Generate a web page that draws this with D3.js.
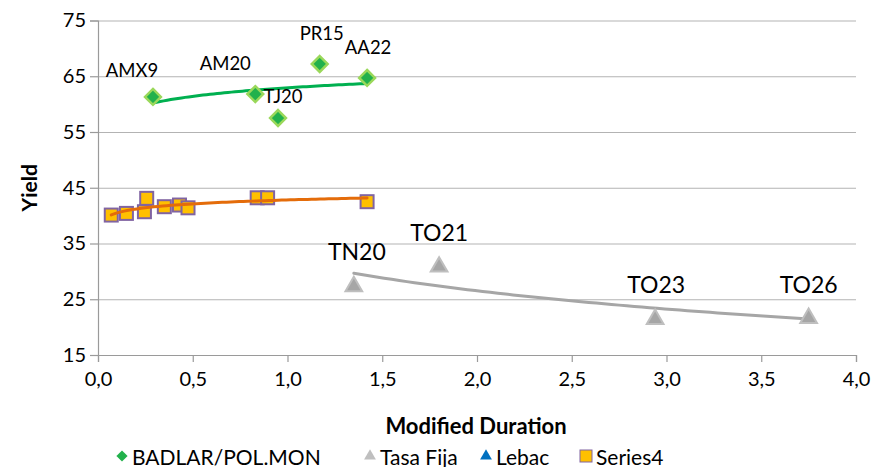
<!DOCTYPE html>
<html>
<head>
<meta charset="utf-8">
<script src="https://cdn.jsdelivr.net/npm/d3@7"></script>
<style>
  body { margin: 0; background: #fff; }
  text { font-family: Lato, "Open Sans", sans-serif; fill: #000; }
</style>
</head>
<body>
<svg id="chart" width="877" height="467"></svg>
<script>
// data
const badlarNames = ["AMX9", "AM20", "TJ20", "PR15", "AA22"];
const badlarDur = [0.29, 0.83, 0.95, 1.17, 1.42];
const badlarYield = [61.3, 61.8, 57.5, 67.2, 64.7];

const fijaNames = ["TN20", "TO21", "TO23", "TO26"];
const fijaDur = [1.35, 1.80, 2.94, 3.75];
const fijaYield = [27.5, 31.0, 21.6, 21.8];

const lebacDur = [];
const lebacYield = [];

const s4Dur = [0.07, 0.15, 0.245, 0.257, 0.35, 0.43, 0.475, 0.84, 0.895, 1.42];
const s4Yield = [40.1, 40.4, 40.7, 43.1, 41.6, 41.9, 41.4, 43.2, 43.2, 42.5];

const xTicks = [0, 0.5, 1, 1.5, 2, 2.5, 3, 3.5, 4];
const yTicks = [15, 25, 35, 45, 55, 65, 75];
const legendNames = ["BADLAR/POL.MON", "Tasa Fija", "Lebac", "Series4"];

// layout
const margin = {top: 20.5, right: 21, bottom: 112, left: 98};
const svg = d3.select("#chart");
const W = 877, H = 467;

const x = d3.scaleLinear().domain([0, 4]).range([margin.left, W - margin.right]);
const y = d3.scaleLinear().domain([15, 75]).range([H - margin.bottom, margin.top]);

const zip = (xs, ys, names) => xs.map((d, i) => ({x: d, y: ys[i], name: names ? names[i] : null}));
const badlar = zip(badlarDur, badlarYield, badlarNames);
const fija = zip(fijaDur, fijaYield, fijaNames);
const lebac = zip(lebacDur, lebacYield);
const s4 = zip(s4Dur, s4Yield);

// gridlines
svg.append("g")
  .attr("transform", `translate(${margin.left},0)`)
  .call(d3.axisLeft(y).tickValues(yTicks).tickSize(-(W - margin.left - margin.right)).tickFormat(""))
  .call(g => g.select(".domain").remove())
  .selectAll("line").attr("stroke", "#b3b3b3").attr("stroke-width", 1.2);

// y axis
svg.append("g")
  .attr("transform", `translate(${margin.left},0)`)
  .call(d3.axisLeft(y).tickValues(yTicks).tickSize(8).tickPadding(4))
  .call(g => g.select(".domain").attr("stroke", "#9a9a9a").attr("stroke-width", 1.2))
  .call(g => g.selectAll("line").attr("stroke", "#9a9a9a").attr("stroke-width", 1.2))
  .call(g => g.selectAll("text").style("font-size", "20px").attr("fill", "#000"));

// x axis
svg.append("g")
  .attr("transform", `translate(0,${y(15)})`)
  .call(d3.axisBottom(x).tickValues(xTicks).tickSize(7).tickPadding(10)
    .tickFormat(d => d3.format(".1f")(d).replace(".", ",")))
  .call(g => g.select(".domain").attr("stroke", "#9a9a9a").attr("stroke-width", 1.2))
  .call(g => g.selectAll("line").attr("stroke", "#9a9a9a").attr("stroke-width", 1.2))
  .call(g => g.selectAll("text").style("font-size", "20px").attr("fill", "#000"));

// axis titles
svg.append("text")
  .attr("x", 476).attr("y", 434)
  .attr("text-anchor", "middle").style("font-size", "22px").style("font-weight", "bold")
  .text("Modified Duration");
svg.append("text")
  .attr("transform", `translate(37,${(y(15) + y(75)) / 2}) rotate(-90)`)
  .attr("text-anchor", "middle").style("font-size", "21px").style("font-weight", "bold")
  .text("Yield");

// logarithmic trendlines fitted to each series
function logFit(pts) {
  const lx = pts.map(p => Math.log(p.x));
  const mx = d3.mean(lx), my = d3.mean(pts, p => p.y);
  let sxy = 0, sxx = 0;
  pts.forEach((p, i) => { sxy += (lx[i] - mx) * (p.y - my); sxx += (lx[i] - mx) ** 2; });
  const b = sxy / sxx, a = my - b * mx;
  const [x0, x1] = d3.extent(pts, p => p.x);
  return d3.range(0, 61).map(i => {
    const xv = x0 + (x1 - x0) * i / 60;
    return {x: xv, y: a + b * Math.log(xv)};
  });
}
const line = d3.line().x(d => x(d.x)).y(d => y(d.y));

function trend(pts, color) {
  svg.append("path").datum(logFit(pts))
    .attr("fill", "none").attr("stroke", color).attr("stroke-width", 3)
    .attr("stroke-linecap", "round").attr("d", line);
}

// markers
const diamond = d3.symbol().type(d3.symbolDiamond2).size(160);
const triangle = d3.symbol().type(d3.symbolTriangle2).size(200);

// series4
svg.append("g").selectAll("rect").data(s4).join("rect")
  .attr("x", d => x(d.x) - 6.5).attr("y", d => y(d.y) - 6.5)
  .attr("width", 13).attr("height", 13)
  .attr("fill", "#ffc000").attr("stroke", "#8064a2").attr("stroke-width", 2);
trend(s4, "#e46c0a");

// badlar
trend(badlar, "#00b050");
svg.append("g").selectAll("path").data(badlar).join("path")
  .attr("transform", d => `translate(${x(d.x)},${y(d.y)})`)
  .attr("d", diamond)
  .attr("fill", "#22b14c").attr("stroke", "#9ad85a").attr("stroke-width", 2.5);

// tasa fija
trend(fija, "#a6a6a6");
svg.append("g").selectAll("path").data(fija).join("path")
  .attr("transform", d => `translate(${x(d.x)},${y(d.y) + 1})`)
  .attr("d", triangle)
  .attr("fill", "#a6a6a6").attr("stroke", "#bfbfbf").attr("stroke-width", 2);

// lebac (no points)
svg.append("g").selectAll("path").data(lebac).join("path")
  .attr("transform", d => `translate(${x(d.x)},${y(d.y)})`)
  .attr("d", triangle).attr("fill", "#0070c0");

// data labels
const badlarLabelOff = {AMX9: [-21, -27], AM20: [-30, -31], TJ20: [5, -22], PR15: [2, -31], AA22: [1, -31]};
svg.append("g").selectAll("text").data(badlar).join("text")
  .attr("x", d => x(d.x) + badlarLabelOff[d.name][0])
  .attr("y", d => y(d.y) + badlarLabelOff[d.name][1])
  .attr("text-anchor", "middle").attr("dominant-baseline", "central")
  .style("font-size", "18.5px").text(d => d.name);

const fijaLabelOff = {TN20: [3, -34], TO21: [0, -34], TO23: [1, -34], TO26: [0, -33]};
svg.append("g").selectAll("text").data(fija).join("text")
  .attr("x", d => x(d.x) + fijaLabelOff[d.name][0])
  .attr("y", d => y(d.y) + fijaLabelOff[d.name][1])
  .attr("text-anchor", "middle").attr("dominant-baseline", "central")
  .style("font-size", "23px").text(d => d.name);

// legend
const legX = [122, 370, 486, 586];
const legY = 456;
const leg = svg.append("g");
legendNames.forEach((name, i) => {
  const g = leg.append("g").attr("transform", `translate(${legX[i]},${legY})`);
  if (i === 0) g.append("path").attr("d", d3.symbol().type(d3.symbolDiamond2).size(80)).attr("fill", "#22b14c");
  if (i === 1) g.append("path").attr("d", d3.symbol().type(d3.symbolTriangle2).size(100)).attr("fill", "#bfbfbf");
  if (i === 2) g.append("path").attr("d", d3.symbol().type(d3.symbolTriangle2).size(100)).attr("fill", "#0070c0");
  if (i === 3) g.append("rect").attr("x", -6).attr("y", -6).attr("width", 12).attr("height", 12)
    .attr("fill", "#ffc000").attr("stroke", "#8064a2").attr("stroke-width", 1);
  g.append("text").attr("x", 10).attr("y", 0).attr("dominant-baseline", "central")
    .style("font-size", "21px").text(name);
});
</script>
</body>
</html>
